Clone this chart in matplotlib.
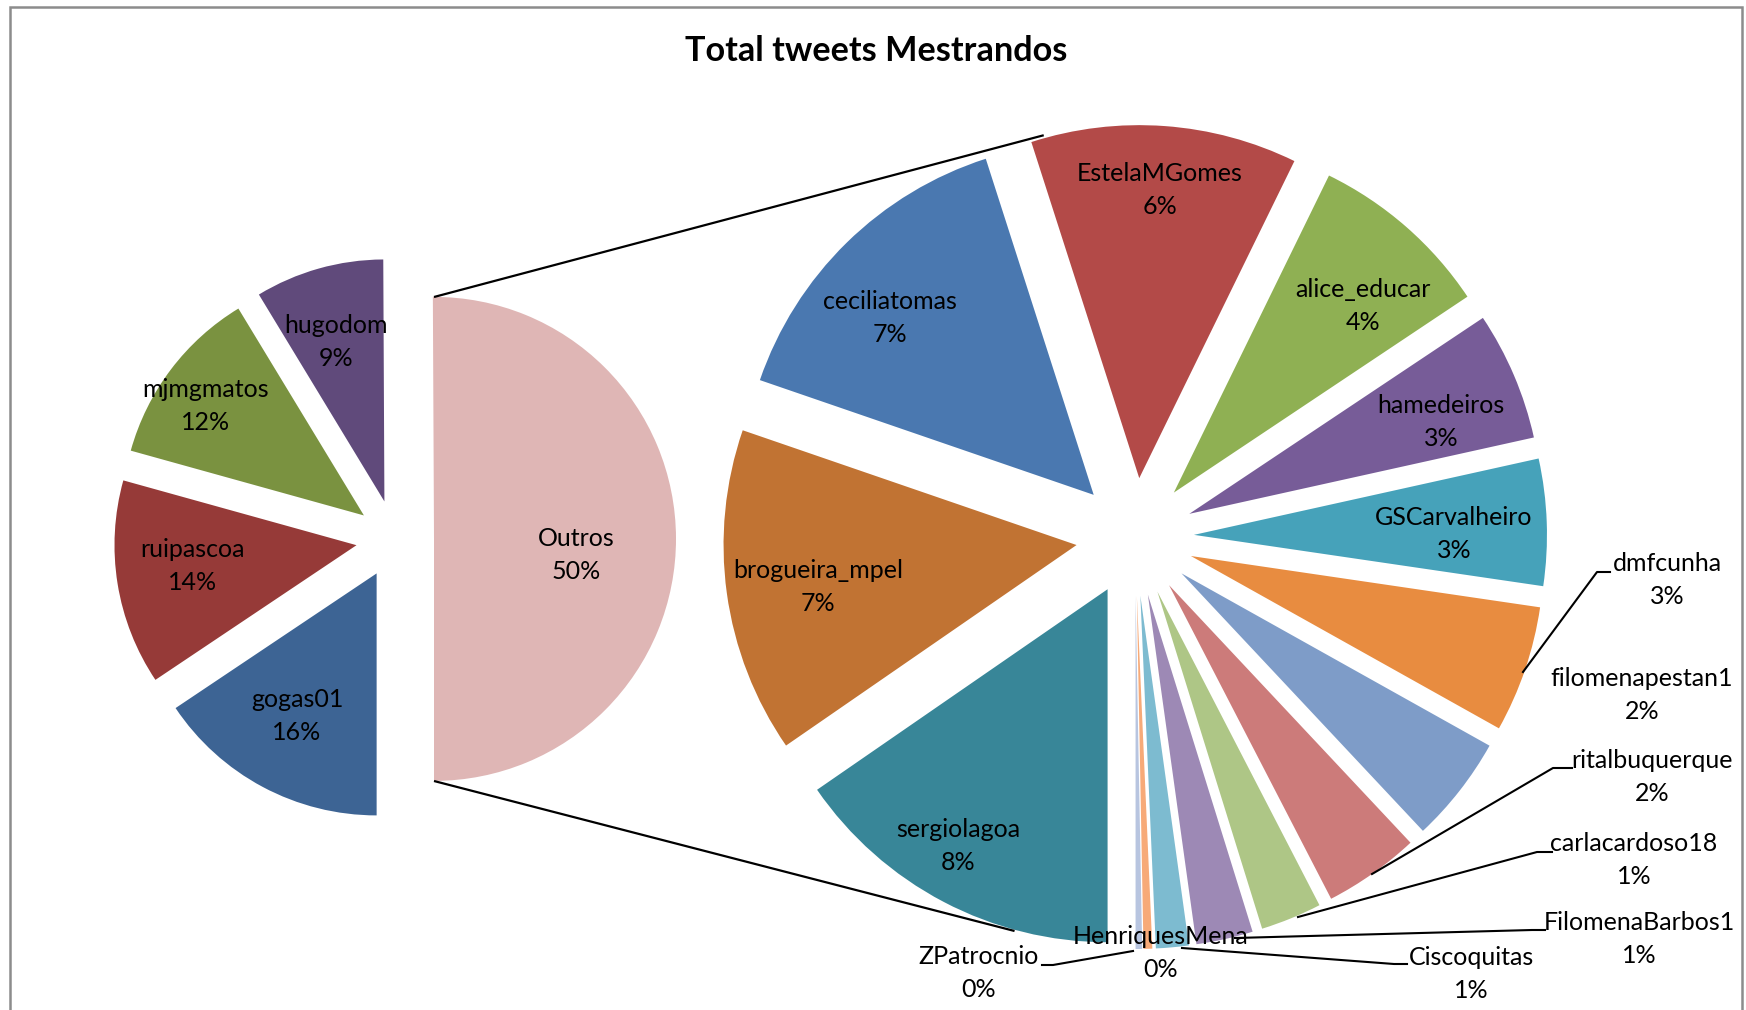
import numpy as np
import matplotlib
matplotlib.use("Agg")
import matplotlib.pyplot as plt
from matplotlib.patches import Rectangle

plt.rcParams['font.family'] = ['Lato', 'DejaVu Sans']

# ---------------- data (share of total tweets, %) ----------------
main_names = ["gogas01", "ruipascoa", "mjmgmatos", "hugodom"]
main_values = [15.6, 13.7, 12.0, 8.6]
main_colors = ["#3D6494", "#963A38", "#7A9240", "#604A7B"]
other_name = "Outros"
other_color = "#DFB6B5"

sub_names = ["sergiolagoa", "brogueira_mpel", "ceciliatomas", "EstelaMGomes",
             "alice_educar", "hamedeiros", "GSCarvalheiro", "dmfcunha",
             "filomenapestan1", "ritalbuquerque", "carlacardoso18",
             "FilomenaBarbos1", "Ciscoquitas", "HenriquesMena", "ZPatrocnio"]
sub_values = [7.7, 7.45, 7.4, 6.1, 4.2, 2.95, 2.9, 2.9, 2.45, 2.2, 1.4, 1.3,
              0.75, 0.2, 0.15]
sub_colors = ["#388698", "#C17333", "#4A78B0", "#B34A48", "#8FB053", "#775C98",
              "#46A2BA", "#E88C40", "#7E9CC8", "#CC7B7A", "#AEC686", "#9D89B5",
              "#7DBBD0", "#F7AA78", "#B8C5E0"]

title = "Total tweets Mestrandos"

# ---------------- layout ----------------
W, H = 1746, 1010
L_center = (395, 471)
L_radius = 242
L_explode = 39
R_center = (1135, 473)
R_radius = 353
R_explode = 59

# label positions (screen px, y down)
label_pos = {
    "hugodom": (336, 342), "mjmgmatos": (206, 406), "ruipascoa": (193, 566),
    "gogas01": (297, 716), "Outros": (576, 555),
    "ceciliatomas": (890, 318), "EstelaMGomes": (1160, 190),
    "alice_educar": (1363, 306), "hamedeiros": (1441, 422),
    "GSCarvalheiro": (1454, 534), "dmfcunha": (1667, 580),
    "filomenapestan1": (1642, 695), "ritalbuquerque": (1652, 777),
    "carlacardoso18": (1634, 860), "FilomenaBarbos1": (1639, 939),
    "Ciscoquitas": (1471, 974), "HenriquesMena": (1161, 953),
    "ZPatrocnio": (979, 973), "sergiolagoa": (958, 846),
    "brogueira_mpel": (818, 587),
}
# leader lines (screen px)
leaders = {
    "dmfcunha": [(1610, 572), (1597, 572), (1523, 672)],
    "ritalbuquerque": [(1572, 768), (1553, 768), (1372, 874)],
    "carlacardoso18": [(1552, 852), (1537, 852), (1298, 917)],
    "FilomenaBarbos1": [(1545, 930), (1532, 930), (1235, 938)],
    "Ciscoquitas": [(1407, 964), (1394, 964), (1182, 948)],
    "ZPatrocnio": [(1042, 965), (1053, 965), (1133, 951)],
}

fig = plt.figure(figsize=(W / 100, H / 100), dpi=100)
ax = fig.add_axes([0, 0, 1, 1])

total = sum(main_values) + sum(sub_values)
other_value = sum(sub_values)

# left pie: Outros first (right half), then others counter-clockwise
l_vals = [other_value] + main_values[::-1]
l_cols = [other_color] + main_colors[::-1]
ax.pie(l_vals, colors=l_cols, startangle=-90, counterclock=True,
       radius=L_radius, center=L_center, explode=[L_explode] * len(l_vals),
       wedgeprops=dict(linewidth=0), frame=True)

# right pie: starting at bottom, counter-clockwise from ZPatrocnio
r_vals = sub_values[::-1]
r_cols = sub_colors[::-1]
ax.pie(r_vals, colors=r_cols, startangle=270, counterclock=True,
       radius=R_radius, center=R_center, explode=[R_explode] * len(r_vals),
       wedgeprops=dict(linewidth=0), frame=True)

# connector lines from Outros edges to second pie
oc = (L_center[0] + L_explode, L_center[1])
top_a = np.deg2rad(102.8)
bot_a = np.deg2rad(253.0)
Rr = R_radius + R_explode
ax.plot([oc[0], R_center[0] + Rr * np.cos(top_a)],
        [oc[1] + L_radius, R_center[1] + Rr * np.sin(top_a)],
        color="black", lw=1.6, solid_capstyle="butt")
ax.plot([oc[0], R_center[0] + Rr * np.cos(bot_a)],
        [oc[1] - L_radius, R_center[1] + Rr * np.sin(bot_a)],
        color="black", lw=1.6, solid_capstyle="butt")

# leader lines
for name, pts in leaders.items():
    xs = [p[0] for p in pts]
    ys = [H - p[1] for p in pts]
    ax.plot(xs, ys, color="black", lw=1.5)

# labels
all_names = main_names + [other_name] + sub_names
all_vals = main_values + [other_value] + sub_values
for name, v in zip(all_names, all_vals):
    x, y = label_pos[name]
    pct = int(round(v / total * 100))
    ax.text(x, H - y, f"{name}\n{pct}%", ha="center", va="center",
            fontsize=18, linespacing=1.52, color="black")

ax.text(876, H - 51, title, ha="center", va="center", fontsize=24.7,
        fontweight="bold", color="black")

# chart frame
ax.add_patch(Rectangle((10, -20), 1732, H - 7 + 20, fill=False,
                       edgecolor="#8C8C8C", lw=1.8))

ax.set_xlim(0, W)
ax.set_ylim(0, H)
ax.set_aspect("equal")
ax.axis("off")
fig.savefig("out.png", dpi=100)
